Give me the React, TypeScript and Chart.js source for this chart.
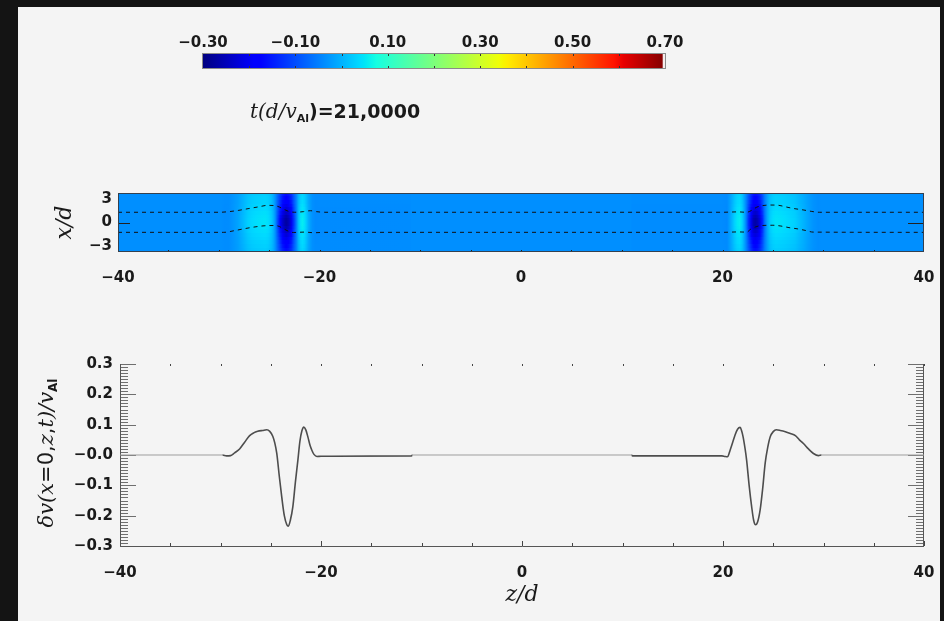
import React, { useEffect, useRef } from "react";
import { Chart, registerables } from "chart.js";

Chart.register(...registerables);

// ---------- colour bar ----------
const colorbarTicks = [-0.3, -0.1, 0.1, 0.3, 0.5, 0.7];
const colorbarTickLabels = ["−0.30", "−0.10", "0.10", "0.30", "0.50", "0.70"];
const colorbarMinorTicks = [-0.2, -0.1, 0.0, 0.1, 0.2, 0.3, 0.4, 0.5, 0.6];

// jet colour table: level -> rgb
const jetLevels = [-0.3, -0.19, -0.175, 0.04, 0.05, 0.075, 0.34, 0.35, 0.36, 0.59, 0.61, 0.7];
const jetColors = [
  [0, 0, 128], [0, 0, 255], [0, 0, 255], [0, 219, 255], [0, 230, 247], [21, 255, 226],
  [239, 255, 8], [247, 246, 0], [255, 236, 0], [255, 19, 0], [232, 0, 0], [128, 0, 0],
];
const colorbarTopLevel = 0.695;
const colorbarTopColor = "rgb(246,236,236)";

const timeLabel = "21,0000";

// ---------- δv(x=0, z, t) / v_Al along the tube axis ----------
const zValues = [
  -40, -29.8, -29.4, -29.0, -28.6, -28.1, -27.6, -27.1, -26.7, -26.3,
  -25.8, -25.4, -25.1, -24.8, -24.6, -24.4, -24.15, -23.9, -23.65, -23.4,
  -23.25, -23.05, -22.8, -22.55, -22.3, -22.1, -21.9, -21.7, -21.5, -21.3,
  -21.1, -20.9, -20.7, -20.4, -20.0, -11.0, -10.9,
  10.9, 11.0, 19.9, 20.2, 20.45, 20.7, 20.95, 21.2, 21.45, 21.7,
  21.85, 22.0, 22.2, 22.35, 22.6, 22.85, 23.05, 23.25, 23.45, 23.7,
  23.95, 24.2, 24.45, 24.7, 25.0, 25.3, 25.7, 26.2, 26.7, 27.2,
  27.6, 28.0, 28.5, 29.0, 29.5, 29.8, 40,
];
const dvValues = [
  0, 0, -0.003, -0.002, 0.007, 0.02, 0.042, 0.064, 0.073, 0.078,
  0.081, 0.083, 0.078, 0.062, 0.04, 0.005, -0.07, -0.14, -0.2, -0.23,
  -0.235, -0.215, -0.17, -0.09, -0.017, 0.045, 0.08, 0.092, 0.082, 0.059,
  0.033, 0.015, 0.002, -0.005, -0.004, -0.003, 0,
  0, -0.003, -0.003, -0.005, -0.006, 0.015, 0.04, 0.066, 0.085, 0.091,
  0.08, 0.06, 0.02, -0.017, -0.1, -0.17, -0.215, -0.23, -0.22, -0.18,
  -0.11, -0.026, 0.025, 0.06, 0.077, 0.083, 0.081, 0.077, 0.071, 0.064,
  0.05, 0.038, 0.02, 0.005, -0.002, 0, 0,
];

const zTicks = [-40, -20, 0, 20, 40];
const zTickLabels = ["−40", "−20", "0", "20", "40"];
const xTicks = [-3, 0, 3];
const xTickLabels = ["−3", "0", "3"];
const dvTicks = [-0.3, -0.2, -0.1, 0, 0.1, 0.2, 0.3];
const dvTickLabels = ["−0.3", "−0.2", "−0.1", "−0.0", "0.1", "0.2", "0.3"];

// ---------- tube boundaries (dashed) in the x–z plane ----------
const upperZ = [-40, -30, -29, -28, -27, -26, -25.2, -24.5, -24.0, -23.5, -23.0, -22.5, -21.6, -20.9, -20.3, -19.5,
  20.0, 21.5, 22.4, 22.9, 23.4, 24.0, 24.8, 25.6, 26.4, 27.2, 28.0, 28.8, 29.6, 40];
const upperX = [1.3, 1.3, 1.38, 1.55, 1.78, 2.0, 2.18, 2.15, 1.98, 1.65, 1.4, 1.3, 1.38, 1.5, 1.38, 1.3,
  1.3, 1.35, 1.3, 1.55, 1.95, 2.15, 2.22, 2.18, 1.95, 1.75, 1.6, 1.42, 1.3, 1.3];
const lowerZ = [-40, -29.5, -28.5, -27.5, -26.5, -25.5, -24.6, -24.0, -23.5, -23.0, -22.6, -21.5, -20.5, -19.5,
  20.0, 21.5, 22.4, 22.8, 23.3, 24.0, 25.0, 25.8, 26.6, 27.4, 28.2, 29.0, 40];
const lowerX = [-1.25, -1.25, -1.05, -0.8, -0.58, -0.42, -0.38, -0.5, -0.85, -1.15, -1.27, -1.22, -1.3, -1.25,
  -1.25, -1.2, -1.22, -0.85, -0.55, -0.38, -0.35, -0.45, -0.65, -0.8, -1.0, -1.22, -1.25];

// ---------- heat map of the perturbation, rows from top (x = 3.75) to bottom ----------
const xRange = [-3.75, 3.75];
const fieldBackground = -0.035;
const rowWeightPos = [0.74, 0.78, 0.82, 0.86, 0.9, 0.95, 0.98, 1, 1, 0.98, 0.95, 0.9, 0.86, 0.82, 0.78, 0.74];
const rowWeightNeg = [0.55, 0.6, 0.66, 0.73, 0.8, 0.87, 0.95, 1, 1, 0.95, 0.87, 0.8, 0.73, 0.66, 0.6, 0.55];

// ---------- helpers ----------
const SANS = (s: number, w = "normal") => `${w} ${s}px "DejaVu Sans"`;
const SERIF_I = (s: number) => `italic ${s}px "DejaVu Serif"`;
const INK = "#1a1a1a";

function colorAt(v: number): number[] {
  if (v <= jetLevels[0]) return jetColors[0];
  for (let j = 0; j < jetLevels.length - 1; j++) {
    if (v <= jetLevels[j + 1]) {
      const t = (v - jetLevels[j]) / (jetLevels[j + 1] - jetLevels[j]);
      const a = jetColors[j];
      const b = jetColors[j + 1];
      return [a[0] + (b[0] - a[0]) * t, a[1] + (b[1] - a[1]) * t, a[2] + (b[2] - a[2]) * t];
    }
  }
  return jetColors[jetColors.length - 1];
}
const rgb = (c: number[]) => `rgb(${Math.round(c[0])},${Math.round(c[1])},${Math.round(c[2])})`;
const clamp01 = (t: number) => Math.min(1, Math.max(0, t));

type Part = { text: string; font: string; dy?: number };
function drawParts(ctx: CanvasRenderingContext2D, parts: Part[], x: number, y: number, center: boolean) {
  ctx.textBaseline = "alphabetic";
  ctx.textAlign = "left";
  ctx.fillStyle = INK;
  const widths = parts.map((p) => {
    ctx.font = p.font;
    return ctx.measureText(p.text).width;
  });
  const total = widths.reduce((s, w) => s + w, 0);
  let cx = center ? x - total / 2 : x;
  parts.forEach((p, i) => {
    ctx.font = p.font;
    ctx.fillText(p.text, cx, y + (p.dy || 0));
    cx += widths[i];
  });
}

function line(ctx: CanvasRenderingContext2D, x0: number, y0: number, x1: number, y1: number) {
  ctx.beginPath();
  ctx.moveTo(x0, y0);
  ctx.lineTo(x1, y1);
  ctx.stroke();
}

const baseOptions = {
  animation: false,
  responsive: false,
  devicePixelRatio: 1,
  events: [],
  plugins: { legend: { display: false }, tooltip: { enabled: false } },
};

const tickFont = { family: "DejaVu Sans", size: 15, weight: "bold" };
const noGrid = { display: false, drawTicks: false };

// ---------- colour bar chart ----------
const colorbarPlugin = {
  id: "colorbar",
  afterDatasetsDraw(chart: any) {
    const { ctx, chartArea: a, scales } = chart;
    const x = scales.x;
    const xl = x.getPixelForValue(jetLevels[0]);
    const xr = x.getPixelForValue(jetLevels[jetLevels.length - 1]);
    ctx.save();
    const g = ctx.createLinearGradient(xl, 0, xr, 0);
    jetLevels.forEach((v, i) => g.addColorStop(clamp01((x.getPixelForValue(v) - xl) / (xr - xl)), rgb(jetColors[i])));
    ctx.fillStyle = g;
    ctx.fillRect(xl, a.top, xr - xl, a.bottom - a.top);
    const xt = x.getPixelForValue(colorbarTopLevel);
    ctx.fillStyle = colorbarTopColor;
    ctx.fillRect(xt, a.top, xr - xt, a.bottom - a.top);
    ctx.strokeStyle = "#333";
    ctx.lineWidth = 1;
    colorbarMinorTicks.forEach((v) => {
      const px = Math.round(x.getPixelForValue(v)) + 0.5;
      line(ctx, px, a.top, px, a.top + 2);
      line(ctx, px, a.bottom - 2, px, a.bottom);
    });
    ctx.strokeStyle = "#8a8a8a";
    ctx.strokeRect(Math.round(xl) - 0.5, Math.round(a.top) - 0.5, Math.round(xr - xl) + 1, Math.round(a.bottom - a.top) + 1);
    drawParts(ctx, [
      { text: "t(d/v", font: SERIF_I(20) },
      { text: "Al", font: SANS(11, "bold"), dy: 4 },
      { text: ")=" + timeLabel, font: SANS(19, "bold") },
    ], 100, 99.5, false);
    ctx.restore();
  },
};

const colorbarConfig = () => ({
  type: "scatter",
  data: { datasets: [] },
  options: {
    ...baseOptions,
    layout: { padding: { left: 53, right: 55, top: 0, bottom: 60 } },
    scales: {
      x: {
        type: "linear", position: "top", min: -0.3, max: 0.7,
        afterBuildTicks: (s: any) => { s.ticks = colorbarTicks.map((v) => ({ value: v })); },
        afterFit: (s: any) => { s.height = 36; },
        grid: noGrid, border: { display: false },
        ticks: { autoSkip: false, maxRotation: 0, padding: 2, color: INK, font: tickFont,
          callback: (_v: any, i: number) => colorbarTickLabels[i] },
      },
      y: { display: false, min: 0, max: 1 },
    },
  },
  plugins: [colorbarPlugin],
});

// ---------- heat map chart ----------
const heatmapPlugin = {
  id: "heatmap",
  beforeDatasetsDraw(chart: any) {
    const { ctx, scales } = chart;
    const { x, y } = scales;
    const x0 = x.getPixelForValue(zTicks[0]);
    const x1 = x.getPixelForValue(zTicks[zTicks.length - 1]);
    const n = rowWeightPos.length;
    const span = xRange[1] - xRange[0];
    ctx.save();
    for (let r = 0; r < n; r++) {
      const yTop = y.getPixelForValue(xRange[1] - (r * span) / n);
      const yBot = y.getPixelForValue(xRange[1] - ((r + 1) * span) / n);
      const g = ctx.createLinearGradient(x0, 0, x1, 0);
      zValues.forEach((z, i) => {
        const w = dvValues[i] >= 0 ? rowWeightPos[r] : rowWeightNeg[r];
        const v = fieldBackground + dvValues[i] * w;
        g.addColorStop(clamp01((x.getPixelForValue(z) - x0) / (x1 - x0)), rgb(colorAt(v)));
      });
      ctx.fillStyle = g;
      const t = Math.floor(yTop);
      ctx.fillRect(x0, t, x1 - x0, Math.ceil(yBot) - t);
    }
    ctx.restore();
  },
  afterDatasetsDraw(chart: any) {
    const { ctx, chartArea: a, scales } = chart;
    const { x, y } = scales;
    ctx.save();
    ctx.lineWidth = 1;
    ctx.strokeStyle = "#222";
    const py = Math.round(y.getPixelForValue(0)) + 0.5;
    line(ctx, a.left, py, a.left + 12, py);
    line(ctx, a.right - 16, py, a.right, py);
    for (let z = -35; z <= 35; z += 5) {
      const px = Math.round(x.getPixelForValue(z)) + 0.5;
      line(ctx, px, a.bottom, px, a.bottom - 2);
    }
    ctx.strokeStyle = "#34404f";
    ctx.strokeRect(Math.round(a.left) + 0.5, Math.round(a.top) + 0.5, Math.round(a.right - a.left) - 1, Math.round(a.bottom - a.top) - 1);
    ctx.translate(52.5, 59.5);
    ctx.rotate(-Math.PI / 2);
    drawParts(ctx, [{ text: "x/d", font: SERIF_I(22) }], 0, 0, true);
    ctx.restore();
  },
};

const dashed = (zs: number[], xs: number[]) => ({
  data: zs.map((z, i) => ({ x: z, y: xs[i] })),
  borderColor: "#111",
  borderWidth: 1,
  borderDash: [4, 4],
  pointRadius: 0,
  cubicInterpolationMode: "monotone",
  fill: false,
});

const heatmapConfig = () => ({
  type: "line",
  data: { datasets: [dashed(upperZ, upperX), dashed(lowerZ, lowerX)] },
  options: {
    ...baseOptions,
    layout: { padding: { left: 0, right: 40, top: 30, bottom: 0 } },
    scales: {
      x: {
        type: "linear", min: -40, max: 40,
        afterBuildTicks: (s: any) => { s.ticks = zTicks.map((v) => ({ value: v })); },
        afterFit: (s: any) => { s.height = 41; },
        grid: noGrid, border: { display: false },
        ticks: { autoSkip: false, maxRotation: 0, padding: 17, color: INK, font: tickFont,
          callback: (_v: any, i: number) => zTickLabels[i] },
      },
      y: {
        type: "linear", min: xRange[0], max: xRange[1],
        afterBuildTicks: (s: any) => { s.ticks = xTicks.map((v) => ({ value: v })); },
        afterFit: (s: any) => { s.width = 100; },
        grid: noGrid, border: { display: false },
        ticks: { autoSkip: false, padding: 6, color: INK, font: tickFont,
          callback: (_v: any, i: number) => xTickLabels[i] },
      },
    },
  },
  plugins: [heatmapPlugin],
});

// ---------- δv profile chart ----------
const flatSegment = (c: any) => c.p0.parsed.y === 0 && c.p1.parsed.y === 0;

const profilePlugin = {
  id: "profileAxes",
  beforeDatasetsDraw(chart: any) {
    const { ctx, chartArea: a, scales } = chart;
    const { x, y } = scales;
    ctx.save();
    ctx.lineWidth = 1;
    ctx.strokeStyle = "#6e6e6e";
    for (let k = -30; k <= 30; k++) {
      const py = Math.round(y.getPixelForValue(k / 100)) + 0.5;
      const len = k % 10 === 0 ? 16 : 8;
      line(ctx, a.left, py, a.left + len, py);
      line(ctx, a.right - len, py, a.right, py);
    }
    ctx.strokeStyle = "#444";
    for (let z = -40; z <= 40; z += 5) {
      const px = Math.round(x.getPixelForValue(z)) + 0.5;
      const len = z % 20 === 0 ? 5 : 3;
      line(ctx, px, a.bottom, px, a.bottom - len);
      line(ctx, px, a.top, px, a.top + 2);
    }
    ctx.strokeStyle = "#555";
    const l = Math.round(a.left) + 0.5;
    const r = Math.round(a.right) - 0.5;
    const b = Math.round(a.bottom) + 0.5;
    line(ctx, l, a.top, l, b);
    line(ctx, r, a.top, r, b);
    line(ctx, l, b, r + 0.5, b);
    ctx.restore();
  },
  afterDraw(chart: any) {
    const { ctx } = chart;
    ctx.save();
    drawParts(ctx, [{ text: "z/d", font: SERIF_I(22) }], 504, 267, true);
    ctx.translate(35, 119);
    ctx.rotate(-Math.PI / 2);
    drawParts(ctx, [
      { text: "δv(x", font: SERIF_I(21) },
      { text: "=0,", font: SANS(21) },
      { text: "z", font: SERIF_I(21) },
      { text: ",", font: SANS(21) },
      { text: "t)/v", font: SERIF_I(21) },
      { text: "Al", font: SANS(12, "bold"), dy: 4 },
    ], 0, 0, true);
    ctx.restore();
  },
};

const profileConfig = () => ({
  type: "line",
  data: {
    datasets: [{
      data: zValues.map((z, i) => ({ x: z, y: dvValues[i] })),
      borderColor: "#4d4d4d",
      borderWidth: 1.6,
      pointRadius: 0,
      cubicInterpolationMode: "monotone",
      fill: false,
      segment: {
        borderColor: (c: any) => (flatSegment(c) ? "#9d9d9d" : "#4d4d4d"),
        borderWidth: (c: any) => (flatSegment(c) ? 1 : 1.6),
      },
    }],
  },
  options: {
    ...baseOptions,
    layout: { padding: { left: 0, right: 40, top: 30, bottom: 0 } },
    scales: {
      x: {
        type: "linear", min: -40, max: 40,
        afterBuildTicks: (s: any) => { s.ticks = zTicks.map((v) => ({ value: v })); },
        afterFit: (s: any) => { s.height = 75; },
        grid: noGrid, border: { display: false },
        ticks: { autoSkip: false, maxRotation: 0, padding: 18, color: INK, font: tickFont,
          callback: (_v: any, i: number) => zTickLabels[i] },
      },
      y: {
        type: "linear", min: -0.3, max: 0.3,
        afterBuildTicks: (s: any) => { s.ticks = dvTicks.map((v) => ({ value: v })); },
        afterFit: (s: any) => { s.width = 102; },
        grid: noGrid, border: { display: false },
        ticks: { autoSkip: false, padding: 7, color: INK, font: tickFont,
          callback: (_v: any, i: number) => dvTickLabels[i] },
      },
    },
  },
  plugins: [profilePlugin],
});

function ChartCanvas(props: { left: number; top: number; width: number; height: number; build: () => any }) {
  const ref = useRef<HTMLCanvasElement>(null);
  useEffect(() => {
    const chart = new Chart(ref.current as HTMLCanvasElement, props.build());
    return () => chart.destroy();
  }, []);
  const { left, top, width, height } = props;
  return (
    <canvas
      ref={ref}
      width={width}
      height={height}
      style={{ position: "absolute", left, top, width, height }}
    />
  );
}

export default function App() {
  return (
    <div style={{ position: "fixed", left: 0, top: 0, width: 944, height: 621, background: "#141414", overflow: "hidden" }}>
      <div style={{ position: "absolute", left: 18, top: 7, width: 922, height: 614, background: "#f4f4f4" }} />
      <ChartCanvas left={150} top={18} width={570} height={110} build={colorbarConfig} />
      <ChartCanvas left={18} top={163} width={946} height={130} build={heatmapConfig} />
      <ChartCanvas left={18} top={334} width={946} height={287} build={profileConfig} />
    </div>
  );
}
